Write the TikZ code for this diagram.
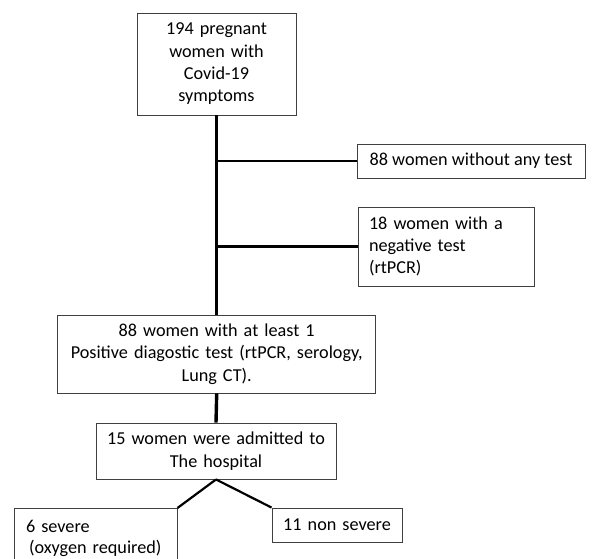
\documentclass[tikz,border=0pt]{standalone}
\usepackage{fontspec}
\setmainfont{Carlito}
\usetikzlibrary{positioning}

\begin{document}
\begin{tikzpicture}[x=1pt,y=-1pt,
    box/.style={draw=black!75,line width=0.9pt,inner ysep=2pt,
      font=\fontsize{18.2}{22.3}\selectfont},
    trunk/.style={line width=3.4pt},
    branch/.style={line width=2.6pt}]
  \useasboundingbox (0,0) rectangle (593,558);
  \clip (0,0) rectangle (593,558);

  % boxes
  \node [box,inner xsep=6pt,text width=147pt,align=center,minimum height=102pt]
    (sympt) at (216.5,64) {194 pregnant\\women with\\Covid-19\\symptoms};
  \node [box,inner xsep=0pt,minimum width=228pt,minimum height=34pt]
    (notest) at (471,161) {88 women without any test};
  \node [box,inner xsep=11pt,text width=154pt,align=left,minimum height=79pt]
    (negtest) at (446,246.5) {18 women with a\\negative test\\(rtPCR)};
  \node [box,inner xsep=6pt,text width=306pt,align=center,minimum height=78pt]
    (postest) at (216.7,354) {88 women with at least 1\\Positive diagostic test (rtPCR, serology,\\Lung CT).};
  \node [box,inner xsep=6pt,text width=228pt,align=center,minimum height=56pt]
    (hosp) at (216,451) {15 women were admitted to\\The hospital};
  \node [box,inner xsep=12pt,text width=139pt,align=left,minimum height=60pt,anchor=north,
         font=\fontsize{18.2}{21}\selectfont]
    (severe) at (95.5,508) {6 severe\\\hspace{3pt}(oxygen required)};
  \node [box,inner xsep=6pt,text width=118pt,align=center,minimum height=34pt]
    (nonsev) at (337,525) {11 non severe};

  % lines
  \draw [trunk] (sympt.south) -- (sympt.south |- postest.north);
  \draw [branch] (sympt.south |- notest.west) -- (notest.west);
  \draw [branch] (sympt.south |- negtest.west) -- (negtest.west);
  \draw [trunk] (postest.south) -- (hosp.north);
  \draw [line width=2.2pt] (hosp.south) -- (severe.north east);
  \draw [line width=2.2pt] (hosp.south) -- (nonsev.north west);
\end{tikzpicture}
\end{document}
